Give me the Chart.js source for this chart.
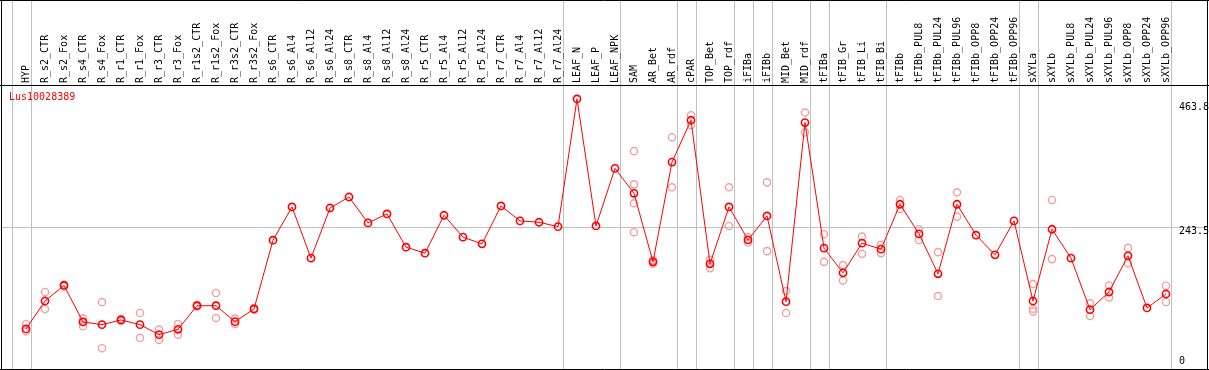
<!DOCTYPE html>
<html lang="en">
<head>
    <meta charset="UTF-8">
    <title>Lus10028389</title>
    <script src="https://cdn.jsdelivr.net/npm/chart.js"></script>
    <style>
        html, body { margin: 0; padding: 0; background: #fff; }
        #wrap { width: 1209px; height: 370px; }
    </style>
</head>
<body>
    <div id="wrap"><canvas id="expr-chart"></canvas></div>

    <script>
        const geneName = 'Lus10028389';

        const categories = [
            'HYP', 'R_s2_CTR', 'R_s2_Fox', 'R_s4_CTR', 'R_s4_Fox', 'R_r1_CTR', 'R_r1_Fox',
            'R_r3_CTR', 'R_r3_Fox', 'R_r1s2_CTR', 'R_r1s2_Fox', 'R_r3s2_CTR', 'R_r3s2_Fox',
            'R_s6_CTR', 'R_s6_Al4', 'R_s6_Al12', 'R_s6_Al24', 'R_s8_CTR', 'R_s8_Al4',
            'R_s8_Al12', 'R_s8_Al24', 'R_r5_CTR', 'R_r5_Al4', 'R_r5_Al12', 'R_r5_Al24',
            'R_r7_CTR', 'R_r7_Al4', 'R_r7_Al12', 'R_r7_Al24', 'LEAF_N', 'LEAF_P', 'LEAF_NPK',
            'SAM', 'AR_Bet', 'AR_rdf', 'cPAR', 'TOP_Bet', 'TOP_rdf', 'iFIBa', 'iFIBb',
            'MID_Bet', 'MID_rdf', 'tFIBa', 'tFIB_Gr', 'tFIB_Li', 'tFIB_Bi', 'tFIBb',
            'tFIBb_PUL8', 'tFIBb_PUL24', 'tFIBb_PUL96', 'tFIBb_OPP8', 'tFIBb_OPP24', 'tFIBb_OPP96',
            'sXYLa', 'sXYLb', 'sXYLb_PUL8', 'sXYLb_PUL24', 'sXYLb_PUL96', 'sXYLb_OPP8',
            'sXYLb_OPP24', 'sXYLb_OPP96'
        ];

        // mean expression per sample
        const means = [
            68.8, 116.8, 143.5, 80.8, 76.2, 84.2, 76.2, 59, 68.2, 108.7, 108.7, 81.3, 103.1,
            221.2, 278.3, 190.4, 276.5, 295.4, 250.9, 266.3, 209.2, 198.9, 264, 226.4, 214.9,
            280, 254.3, 252, 244.5, 463.8, 245.7, 344.5,
            301.7, 184, 355.3, 427.2, 180.7, 278.3, 221.7, 262.8, 115.6, 423.2,
            207.5, 165.2, 216.1, 205.8, 282.9, 232, 163.5, 282.9, 229.8, 196.1, 254.3,
            116.8, 240, 190.4, 101.9, 132.2, 194.3, 104.8, 128.8
        ];

        // single replicates (same order as categories)
        const replicates = [
            [77.4, 64.7], [132.2, 103.1], [145, 142], [87, 73.3], [115, 35.6], [86, 82.5],
            [96.2, 53.4], [67.6, 50], [77.4, 59], [110, 107.5], [130.5, 87.7], [86.5, 77.4],
            [104.5, 101.8],
            [], [], [], [], [], [], [], [], [], [], [], [], [], [], [], [],
            [], [], [],
            [374.1, 317.1, 284.6, 234.9], [187, 181], [398.1, 312], [435.8, 418.7],
            [187.5, 173.3], [312, 245.7], [226.4, 217.2], [320.5, 202.4], [133.9, 96.2],
            [440.4, 406.2],
            [231.5, 184], [178.4, 152.1], [227.4, 197.8], [213.2, 199], [290.2, 274.8],
            [240, 221.7], [200.7, 125.3], [303.4, 261.6], [], [], [],
            [145.9, 103.6, 99], [290.2, 188.7], [], [112.7, 91.1], [143.5, 123],
            [208, 181.8], [], [143, 115.1]
        ];

        const yTickValues = [0, 243.5, 463.8];

        // sample indexes after which a group separator is drawn
        const groupBreaks = [-1, 0, 28, 31, 34, 35, 37, 38, 39, 41, 42, 45, 52, 53, 60];

        const monoFont = '"DejaVu Sans Mono", "Liberation Mono", monospace';

        const meanPoints = means.map((v, i) => ({ x: i, y: v }));
        const repPoints = [];
        replicates.forEach((reps, i) => {
            reps.forEach(v => repPoints.push({ x: i, y: v }));
        });

        const decorations = {
            id: 'decorations',
            beforeDraw(chart) {
                const ctx = chart.ctx;
                const xs = chart.scales.x;
                ctx.save();
                ctx.fillStyle = '#fff';
                ctx.fillRect(0, 0, chart.width, chart.height);
                ctx.strokeStyle = '#c0c0c0';
                ctx.lineWidth = 1;
                groupBreaks.forEach(i => {
                    const x = Math.round(xs.getPixelForValue(i + 0.25)) + 0.5;
                    ctx.beginPath();
                    ctx.moveTo(x, 0);
                    ctx.lineTo(x, chart.height);
                    ctx.stroke();
                });
                ctx.restore();
            },
            afterDraw(chart) {
                const ctx = chart.ctx;
                const area = chart.chartArea;
                const ys = chart.scales.y;
                ctx.save();
                // frame and header line
                ctx.strokeStyle = '#000';
                ctx.lineWidth = 1;
                ctx.beginPath();
                ctx.moveTo(0, 0.5); ctx.lineTo(chart.width, 0.5);
                ctx.moveTo(1.5, 0); ctx.lineTo(1.5, chart.height);
                ctx.moveTo(area.right + 0.5, 0); ctx.lineTo(area.right + 0.5, chart.height);
                ctx.moveTo(0, area.top - 0.5); ctx.lineTo(chart.width, area.top - 0.5);
                ctx.moveTo(0, area.bottom + 0.5); ctx.lineTo(chart.width, area.bottom + 0.5);
                ctx.stroke();

                ctx.font = '10px ' + monoFont;
                ctx.textBaseline = 'middle';
                // gene name
                ctx.fillStyle = '#ff0000';
                ctx.textAlign = 'left';
                ctx.fillText(geneName, area.left + 8, area.top + 11);
                // y labels
                ctx.fillStyle = '#000';
                yTickValues.forEach(v => {
                    const py = ys.getPixelForValue(v);
                    const y = Math.max(area.top + 21, Math.min(py + 4, area.bottom - 8));
                    ctx.fillText(String(v), area.right - 28, y);
                });
                ctx.restore();
            }
        };

        new Chart(document.getElementById('expr-chart'), {
            type: 'line',
            data: {
                datasets: [{
                    label: 'mean',
                    data: meanPoints,
                    borderColor: '#ff0000',
                    borderWidth: 1,
                    pointStyle: 'circle',
                    pointRadius: 3.6,
                    pointBorderWidth: 1.6,
                    pointBorderColor: '#ff0000',
                    pointBackgroundColor: 'rgba(0,0,0,0)',
                    tension: 0,
                    order: 1
                }, {
                    label: 'replicates',
                    data: repPoints,
                    showLine: false,
                    pointStyle: 'circle',
                    pointRadius: 3.6,
                    pointBorderWidth: 1.4,
                    pointBorderColor: '#f0a0a0',
                    pointBackgroundColor: 'rgba(0,0,0,0)',
                    order: 2
                }]
            },
            options: {
                responsive: true,
                maintainAspectRatio: false,
                animation: false,
                layout: { autoPadding: false, padding: { top: 1, left: 1, right: 2, bottom: 1 } },
                plugins: {
                    legend: { display: false },
                    tooltip: { enabled: false }
                },
                scales: {
                    x: {
                        type: 'linear',
                        position: 'top',
                        min: -25 / 19,
                        max: -25 / 19 + 1206 / 19,
                        afterBuildTicks: s => { s.ticks = categories.map((_, i) => ({ value: i })); },
                        afterFit: s => {
                            s.height = 85;
                            s.paddingLeft = 0;
                            s.paddingRight = 0;
                        },
                        grid: { display: false, drawTicks: false },
                        border: { display: false },
                        ticks: {
                            autoSkip: false,
                            minRotation: 90,
                            maxRotation: 90,
                            padding: 3,
                            labelOffset: 12,
                            color: '#000',
                            font: { family: monoFont, size: 10 },
                            callback: v => categories[v]
                        }
                    },
                    y: {
                        type: 'linear',
                        position: 'right',
                        min: 0,
                        max: 486,
                        afterBuildTicks: s => { s.ticks = yTickValues.map(v => ({ value: v })); },
                        afterFit: s => {
                            s.width = 0;
                            s.paddingTop = 0;
                            s.paddingBottom = 0;
                        },
                        grid: {
                            drawTicks: false,
                            color: c => (c.tick && c.tick.value === 243.5 ? '#c0c0c0' : 'rgba(0,0,0,0)')
                        },
                        border: { display: false },
                        ticks: { display: false }
                    }
                }
            },
            plugins: [decorations]
        });
    </script>
</body>
</html>
